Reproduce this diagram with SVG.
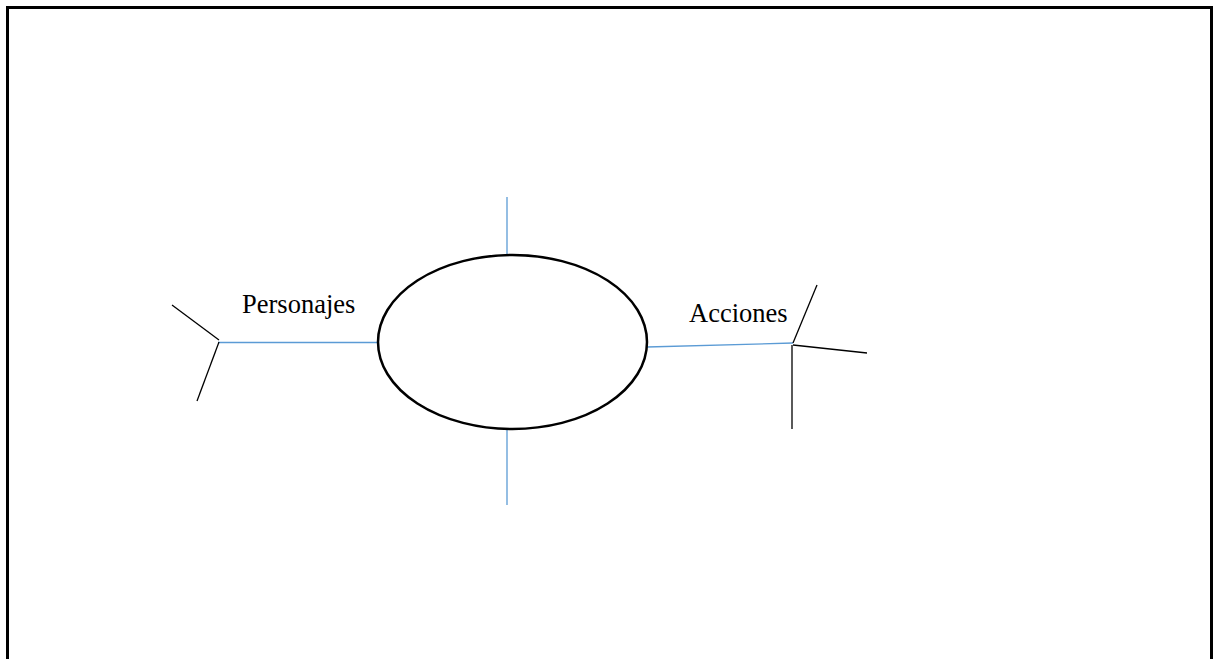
<svg xmlns="http://www.w3.org/2000/svg" width="1218" height="659" viewBox="0 0 1218 659">
<style>
.blue{stroke:#5b9bd5;stroke-width:1.3;fill:none}
.blk{stroke:#000;stroke-width:1.3;fill:none}
.lbl{font-family:"Liberation Serif",serif;font-size:26.5px;fill:#000}
</style>
<rect width="1218" height="659" fill="#fff"/>
<path d="M7.5,659 V7.5 H1211.5 V659" fill="none" stroke="#000" stroke-width="3"/>
<g id="connectors">
<line class="blue" x1="507" y1="197" x2="507" y2="255"/>
<line class="blue" x1="507" y1="429" x2="507" y2="505"/>
<line class="blue" x1="218" y1="342.5" x2="378" y2="342.5"/>
<line class="blue" x1="647" y1="347" x2="793" y2="343"/>
<line class="blk" x1="172" y1="305" x2="219" y2="340"/>
<line class="blk" x1="219" y1="342" x2="197" y2="401"/>
<line class="blk" x1="793" y1="343" x2="817" y2="285"/>
<line class="blk" x1="793" y1="345" x2="867" y2="353"/>
<line class="blk" x1="792" y1="345" x2="792" y2="429"/>
</g>
<g id="center">
<ellipse cx="512.5" cy="342" rx="134.5" ry="87" fill="none" stroke="#000" stroke-width="2.5"/>
</g>
<g id="personajes">
<text class="lbl" x="242" y="313">Personajes</text>
</g>
<g id="acciones">
<text class="lbl" x="689" y="322">Acciones</text>
</g>
</svg>
